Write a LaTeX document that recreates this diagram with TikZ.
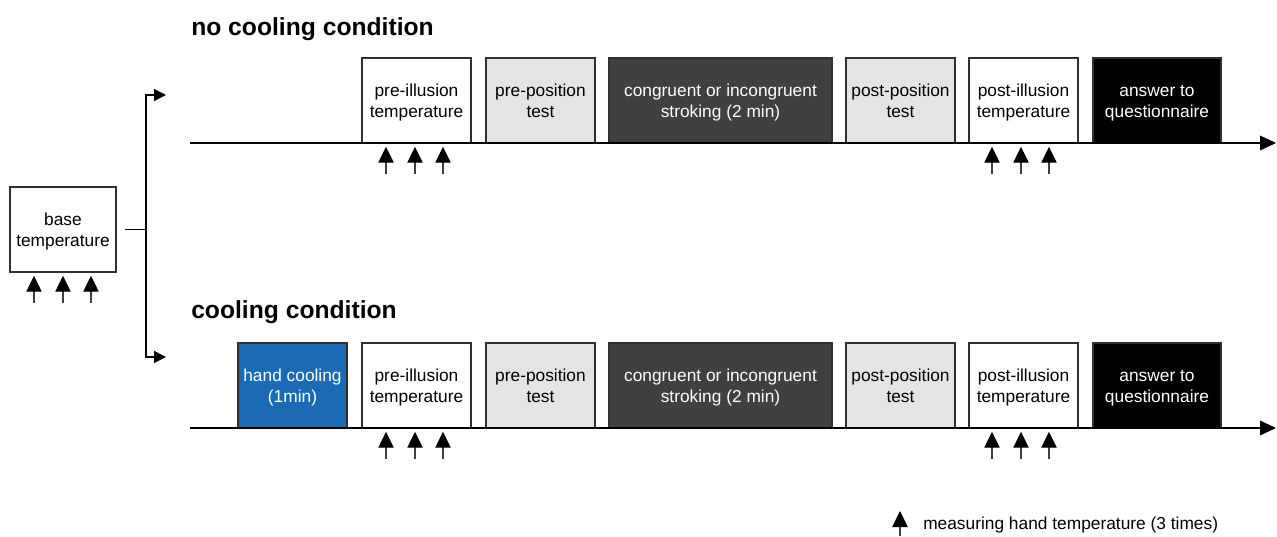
\documentclass[tikz,border=0pt]{standalone}
\usepackage{fontspec}
\setmainfont{Liberation Sans}
\usetikzlibrary{arrows.meta,calc}
\definecolor{lgray}{HTML}{E4E4E4}
\definecolor{dgray}{HTML}{404040}
\definecolor{cblue}{HTML}{1A6AB4}
\definecolor{bord}{HTML}{303030}
\newcommand\bxt[1]{\raisebox{-1.5pt}[\height][\depth]{\begin{tabular}{@{}c@{}}#1\end{tabular}}}
\tikzset{
  box/.style={draw=bord, line width=1.1pt, rectangle, minimum height=63.75pt,
    minimum width=81.75pt, inner sep=0pt,
    font=\fontsize{13}{15.75}\selectfont},
  whitebox/.style={box, fill=white, text=black},
  graybox/.style={box, fill=lgray, text=black},
  darkbox/.style={box, fill=dgray, text=white},
  blackbox/.style={box, fill=black, text=white},
  bluebox/.style={box, fill=cblue, text=white},
  title/.style={anchor=west, inner sep=0pt, font=\fontsize{18.5}{22}\selectfont\bfseries},
  timeline/.style={line width=1.1pt, -{Triangle[length=12pt,width=11pt]}},
  meas/.style={draw=black!75, line width=1pt, -{Triangle[length=12pt,width=11.5pt,color=black]}},
  branch/.style={line width=1.1pt, -{Triangle[length=9pt,width=9pt]}},
  plain/.style={line width=1.1pt},
}
\begin{document}
\begin{tikzpicture}[x=0.75pt,y=-0.75pt]
\useasboundingbox (0,0) rectangle (1277,536);
% titles
\node[title] (t1) at (191,29.5) {no cooling condition};
\node[title] (t2) at (191,312.5) {cooling condition};
% base
\node[whitebox, minimum width=79.5pt] (base) at (63,229.5) {\bxt{base\\temperature}};
% row 1
\node[whitebox] (pre1) at (416.5,100.5) {\bxt{pre-illusion\\temperature}};
\node[graybox] (pp1) at (540.5,100.5) {\bxt{pre-position\\test}};
\node[darkbox, minimum width=167.25pt] (st1) at (720.5,100.5) {\bxt{congruent or incongruent\\stroking (2 min)}};
\node[graybox] (po1) at (900.5,100.5) {\bxt{post-position\\test}};
\node[whitebox] (pi1) at (1023.5,100.5) {\bxt{post-illusion\\temperature}};
\node[blackbox, minimum width=96pt] (an1) at (1157,100.5) {\bxt{answer to\\questionnaire}};
% row 2
\node[bluebox] (hc2) at (292.5,385.5) {\bxt{hand cooling\\(1min)}};
\node[whitebox] (pre2) at (416.5,385.5) {\bxt{pre-illusion\\temperature}};
\node[graybox] (pp2) at (540.5,385.5) {\bxt{pre-position\\test}};
\node[darkbox, minimum width=167.25pt] (st2) at (720.5,385.5) {\bxt{congruent or incongruent\\stroking (2 min)}};
\node[graybox] (po2) at (900.5,385.5) {\bxt{post-position\\test}};
\node[whitebox] (pi2) at (1023.5,385.5) {\bxt{post-illusion\\temperature}};
\node[blackbox, minimum width=96pt] (an2) at (1157,385.5) {\bxt{answer to\\questionnaire}};
% timelines
\coordinate (s1) at (190,143);
\coordinate (e1) at (1276,143);
\coordinate (s2) at (190,428);
\coordinate (e2) at (1276,428);
\draw[timeline] (s1) -- (e1);
\draw[timeline] (s2) -- (e2);
% branch
\coordinate (bj) at (146,229.5);
\coordinate (bt) at (146,95);
\coordinate (bb) at (146,357);
\coordinate (at) at (166,95);
\coordinate (ab) at (166,357);
\draw[plain] ($(base.east)+(8,0)$) -- (bj);
\draw[plain] (bt) -- (bb);
\draw[branch] ([xshift=-0.55pt]bt) -- (at);
\draw[branch] ([xshift=-0.55pt]bb) -- (ab);
% measurement arrows
\foreach \n/\xs in {base/-29, base/0, base/28} {
  \draw[meas] ($(\n.south)+(\xs,30)$) -- ($(\n.south)+(\xs,3)$);
}
\foreach \n in {pre1,pre2} {
  \foreach \xs in {-30.5,-1.5,26.5} {
    \draw[meas] ($(\n.south)+(\xs,30)$) -- ($(\n.south)+(\xs,3)$);
  }
}
\foreach \n in {pi1,pi2} {
  \foreach \xs in {-31.5,-2.5,25.5} {
    \draw[meas] ($(\n.south)+(\xs,30)$) -- ($(\n.south)+(\xs,3)$);
  }
}
% legend
\coordinate (la) at (900,536);
\coordinate (lb) at (900,511);
\draw[meas] (la) -- (lb);
\node[anchor=west, inner sep=0pt, font=\fontsize{13}{15.75}\selectfont] (leg) at (923,525) {measuring hand temperature (3 times)};
\end{tikzpicture}
\end{document}
